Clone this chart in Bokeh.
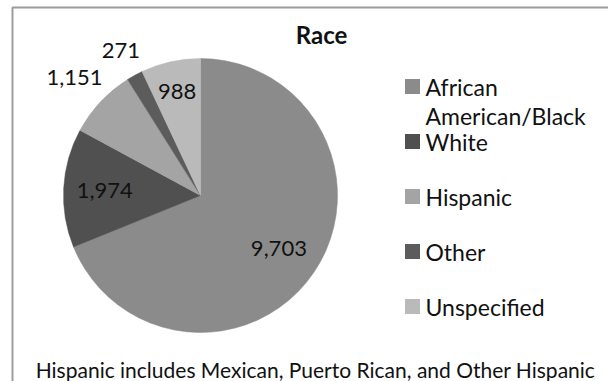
import math
from bokeh.plotting import figure
from bokeh.models import Range1d, ColumnDataSource
from bokeh.core.properties import value
from bokeh.embed import file_html
from bokeh.resources import INLINE

# ---- data ----
categories = ["African American/Black", "White", "Hispanic", "Other", "Unspecified"]
counts = [9703, 1974, 1151, 271, 988]
count_labels = ["9,703", "1,974", "1,151", "271", "988"]
title_text = "Race"
footnote = "Hispanic includes Mexican, Puerto Rican, and Other Hispanic"

# ---- styles ----
colors = ["#8b8b8b", "#505050", "#a4a4a4", "#5c5c5c", "#bababa"]
label_dist = [0.69, 0.70, 1.26, 1.21, 0.78]   # label distance as fraction of radius
W, H = 608, 381
FONT = "Lato"

def Y(ypix):
    return H - ypix

p = figure(width=W, height=H, x_range=Range1d(0, W), y_range=Range1d(0, H),
           output_backend="svg", toolbar_location=None, min_border=0,
           x_axis_location=None, y_axis_location=None)
p.grid.visible = False
p.outline_line_color = None
p.background_fill_color = "white"
p.border_fill_color = "white"

# chart border (top and left visible)
p.line(x=[12, 12, W + 5], y=[Y(H + 5), Y(7), Y(7)], line_color="#9c9c9c", line_width=2)

# ---- pie ----
cx, cy, r = 200, Y(195), 137
total = float(sum(counts))
starts, ends, mids = [], [], []
cum = 0.0
for c in counts:
    a0 = math.pi / 2 - 2 * math.pi * cum / total
    cum += c
    a1 = math.pi / 2 - 2 * math.pi * cum / total
    starts.append(a1)
    ends.append(a0)
    mids.append((a0 + a1) / 2)

src = ColumnDataSource(dict(start=starts, end=ends, color=colors, cat=categories))
p.wedge(x=cx, y=cy, radius=r, start_angle="start", end_angle="end",
        fill_color="color", line_color="color", line_width=0.5, source=src)

lx = [cx + f * r * math.cos(m) for f, m in zip(label_dist, mids)]
ly = [cy + f * r * math.sin(m) for f, m in zip(label_dist, mids)]
p.text(x=lx, y=ly, text=count_labels, text_font=value(FONT), text_font_size="22px",
       text_align="center", text_baseline="middle", text_color="#111111")

# ---- title ----
p.text(x=[321], y=[Y(34)], text=[title_text], text_font=value(FONT),
       text_font_size="24px", text_font_style="bold", text_align="center",
       text_baseline="middle", text_color="#111111")

# ---- legend ----
leg_x_sq, leg_x_txt, leg_y0, leg_dy, line_h = 412, 425, 86, 55, 29
sq_x, sq_y, sq_c = [], [], []
tx, ty, tt = [], [], []
for i, (cat, col) in enumerate(zip(categories, colors)):
    yy = leg_y0 + i * leg_dy
    sq_x.append(leg_x_sq); sq_y.append(Y(yy)); sq_c.append(col)
    lines = cat.replace("African ", "African\n").split("\n")
    for k, ln in enumerate(lines):
        tx.append(leg_x_txt); ty.append(Y(yy + k * line_h)); tt.append(ln)
p.rect(x=sq_x, y=sq_y, width=15, height=15, width_units="screen",
       height_units="screen", fill_color=sq_c, line_color=None)
p.text(x=tx, y=ty, text=tt, text_font=value(FONT), text_font_size="23px",
       text_align="left", text_baseline="middle", text_color="#111111")

# ---- footnote ----
p.text(x=[315], y=[Y(369)], text=[footnote], text_font=value(FONT),
       text_font_size="21px", text_align="center", text_baseline="middle",
       text_color="#111111")

open("out.html", "w").write(file_html(p, INLINE))
